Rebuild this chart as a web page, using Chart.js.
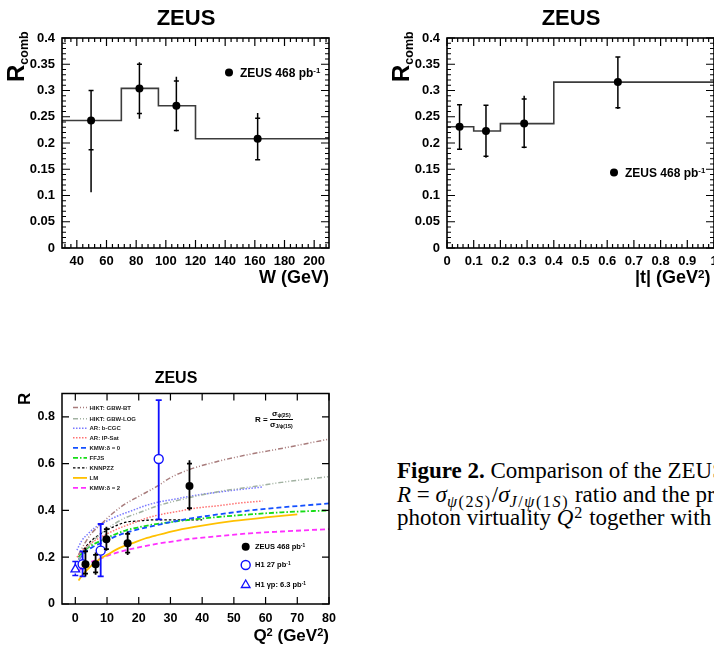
<!DOCTYPE html>
<html>
<head>
<meta charset="utf-8">
<script src="https://cdn.jsdelivr.net/npm/chart.js@4/dist/chart.umd.min.js"></script>
<style>
html,body{margin:0;padding:0;background:#fff;}
body{width:714px;height:647px;overflow:hidden;position:relative;font-family:"Liberation Sans",Arial,sans-serif;color:#000;}
canvas{position:absolute;}
.t{position:absolute;white-space:nowrap;font-weight:bold;line-height:1;color:#000;}
.sup{position:relative;top:-0.45em;font-size:0.65em;}
.sub{position:relative;top:0.3em;font-size:0.62em;}
.rot{position:absolute;white-space:nowrap;font-weight:bold;line-height:1;transform:rotate(-90deg);transform-origin:left top;}
.cap{position:absolute;left:397px;white-space:nowrap;font-family:"Liberation Serif","Times New Roman",serif;font-size:23px;line-height:1;color:#000;}
.csub{position:relative;top:0.32em;font-size:0.7em;letter-spacing:1.6px;}
.csup{position:relative;top:-0.45em;font-size:0.7em;margin-left:1px;margin-right:1px;}
.lg{position:absolute;white-space:nowrap;font-weight:bold;line-height:1;color:#222;font-size:6px;left:89.5px;}
</style>
</head>
<body>
<canvas id="c1" width="357" height="290" style="left:0;top:0;width:357px;height:290px"></canvas>
<canvas id="c2" width="380" height="290" style="left:357px;top:0;width:380px;height:290px"></canvas>
<canvas id="c3" width="357" height="287" style="left:0;top:360px;width:357px;height:287px"></canvas>

<!-- top-left texts -->
<div class="t" style="left:86px;width:200px;text-align:center;top:7.4px;font-size:22px;">ZEUS</div>
<div class="rot" style="left:4px;top:82px;font-size:24px;">R<span style="position:relative;top:4px;font-size:12.5px;">comb</span></div>
<div class="t" style="right:385px;top:268px;font-size:18px;">W (GeV)</div>
<div class="t" style="left:240px;top:66.5px;font-size:12px;">ZEUS 468 pb<span class="sup">-1</span></div>

<!-- top-right texts -->
<div class="t" style="left:471px;width:200px;text-align:center;top:7.4px;font-size:22px;">ZEUS</div>
<div class="rot" style="left:389px;top:82px;font-size:24px;">R<span style="position:relative;top:4px;font-size:12.5px;">comb</span></div>
<div class="t" style="left:635px;top:268px;font-size:18px;">|t| (GeV<span class="sup">2</span>)</div>
<div class="t" style="left:625px;top:166.5px;font-size:12px;">ZEUS 468 pb<span class="sup">-1</span></div>

<!-- bottom texts -->
<div class="t" style="left:76px;width:200px;text-align:center;top:369.8px;font-size:16px;">ZEUS</div>
<div class="rot" style="left:16px;top:405px;font-size:17px;">R</div>
<div class="t" style="right:385px;top:627px;font-size:17px;">Q<span class="sup">2</span> (GeV<span class="sup">2</span>)</div>

<div class="lg" style="top:404.6px">HIKT: GBW-BT</div>
<div class="lg" style="top:415.8px">HIKT: GBW-LOG</div>
<div class="lg" style="top:425.3px">AR: b-CGC</div>
<div class="lg" style="top:434.9px">AR: IP-Sat</div>
<div class="lg" style="top:444.9px">KMW:δ = 0</div>
<div class="lg" style="top:455px">FFJS</div>
<div class="lg" style="top:465px">KNNPZZ</div>
<div class="lg" style="top:475px">LM</div>
<div class="lg" style="top:485px">KMW:δ = 2</div>

<div class="t" style="left:255px;top:543px;font-size:7.5px;">ZEUS 468 pb<span class="sup">-1</span></div>
<div class="t" style="left:255px;top:561.3px;font-size:7.5px;">H1 27 pb<span class="sup">-1</span></div>
<div class="t" style="left:255px;top:581.3px;font-size:7.5px;">H1 γp: 6.3 pb<span class="sup">-1</span></div>

<div class="t" style="left:255px;top:410px;font-size:8px;display:flex;align-items:center;">
  <span>R =&nbsp;</span>
  <span style="display:inline-flex;flex-direction:column;align-items:center;">
    <span style="padding-bottom:1px;">σ<span class="sub">ψ(2S)</span></span>
    <span style="border-top:0.8px solid #000;padding-top:1px;">σ<span class="sub">J/ψ(1S)</span></span>
  </span>
</div>

<!-- caption -->
<div class="cap" style="top:458.7px"><b>Figure 2.</b> Comparison of the ZEUS results on the</div>
<div class="cap" style="top:482.7px"><i>R</i> = <i>σ</i><span class="csub"><i>ψ</i>(2<i>S</i>)</span>/<i>σ</i><span class="csub"><i>J</i>/<i>ψ</i>(1<i>S</i>)</span> ratio and the predictions of</div>
<div class="cap" style="top:506.2px">photon virtuality <i>Q</i><span class="csup">2</span> together with the</div>

<script>
// ================= DATA =================
// Top-left: R_comb vs W
const wBinEdges = [30, 70, 95, 120, 210];
const wBinR     = [0.243, 0.304, 0.271, 0.208];
const wPoints   = [49.6, 82.2, 107.1, 161.9];
const wR        = [0.243, 0.304, 0.271, 0.208];
const wStatLo   = [0.187, 0.256, 0.224, 0.168];
const wStatHi   = [0.300, 0.350, 0.318, 0.247];
const wTotLo    = [0.106, 0.246, 0.222, 0.167];
const wTotHi    = [0.301, 0.354, 0.326, 0.257];
const wTicks    = [40, 60, 80, 100, 120, 140, 160, 180, 200];
const rcombTicks = [0, 0.05, 0.1, 0.15, 0.2, 0.25, 0.3, 0.35, 0.4];

// Top-right: R_comb vs |t|
const tBinEdges = [0, 0.1, 0.2, 0.4, 1.0];
const tBinR     = [0.231, 0.223, 0.237, 0.316];
const tPoints   = [0.047, 0.146, 0.289, 0.640];
const tR        = [0.231, 0.223, 0.237, 0.316];
const tStatLo   = [0.188, 0.175, 0.192, 0.267];
const tStatHi   = [0.273, 0.272, 0.284, 0.364];
const tTotLo    = [0.187, 0.172, 0.190, 0.265];
const tTotHi    = [0.274, 0.273, 0.290, 0.365];
const tTicks    = [0, 0.1, 0.2, 0.3, 0.4, 0.5, 0.6, 0.7, 0.8, 0.9, 1.0];

// Bottom: R vs Q^2
const zeusQ2     = [3.2, 6.4, 9.8, 16.5, 36.0];
const zeusR      = [0.170, 0.170, 0.277, 0.260, 0.505];
const zeusStatLo = [0.130, 0.135, 0.235, 0.220, 0.410];
const zeusStatHi = [0.225, 0.210, 0.320, 0.300, 0.600];
const zeusTotLo  = [0.118, 0.125, 0.228, 0.210, 0.400];
const zeusTotHi  = [0.240, 0.220, 0.330, 0.310, 0.615];

const h1Q2   = [2.3, 8.0, 26.3];
const h1R    = [0.170, 0.228, 0.620];
const h1Lo   = [0.118, 0.118, 0.362];
const h1Hi   = [0.225, 0.342, 0.872];

const h1gpQ2 = [0.0];
const h1gpR  = [0.148];
const h1gpLo = [0.122];
const h1gpHi = [0.182];

const q2Ticks = [0, 10, 20, 30, 40, 50, 60, 70, 80];
const rTicks  = [0, 0.2, 0.4, 0.6, 0.8];

const qStd   = [1, 3, 5, 8, 12, 16, 20, 26, 30, 36, 45, 55, 65, 80];
const rGbwBt = [0.21, 0.26, 0.30, 0.34, 0.39, 0.43, 0.46, 0.505, 0.54, 0.575, 0.61, 0.64, 0.665, 0.705];
const rGbwLog= [0.19, 0.23, 0.26, 0.30, 0.34, 0.37, 0.39, 0.42, 0.435, 0.455, 0.48, 0.50, 0.52, 0.545];
const qAR    = [0.5, 2, 4, 6, 8, 10, 14, 18, 22, 26, 32, 38, 45, 52, 59];
const rBCGC  = [0.23, 0.27, 0.30, 0.325, 0.34, 0.355, 0.38, 0.40, 0.42, 0.435, 0.45, 0.465, 0.478, 0.49, 0.50];
const rIPSat = [0.20, 0.225, 0.25, 0.27, 0.285, 0.30, 0.325, 0.345, 0.365, 0.38, 0.395, 0.41, 0.42, 0.432, 0.44];
const rKMW0  = [0.19, 0.22, 0.24, 0.26, 0.285, 0.305, 0.32, 0.338, 0.35, 0.365, 0.383, 0.40, 0.413, 0.43];
const rFFJS  = [0.20, 0.23, 0.25, 0.27, 0.295, 0.315, 0.328, 0.343, 0.35, 0.36, 0.372, 0.383, 0.392, 0.40];
const qKNN   = [1, 3, 5, 8, 12, 16, 20, 25, 30, 35, 40];
const rKNN   = [0.20, 0.24, 0.27, 0.30, 0.33, 0.35, 0.355, 0.36, 0.36, 0.36, 0.36];
const qLM    = [1, 2, 4, 6, 8, 10, 14, 18, 22, 26, 32, 40, 50, 60, 70];
const rLM    = [0.10, 0.12, 0.15, 0.175, 0.195, 0.21, 0.24, 0.26, 0.28, 0.295, 0.315, 0.335, 0.355, 0.37, 0.383];
const rKMW2  = [0.14, 0.165, 0.18, 0.195, 0.215, 0.23, 0.242, 0.258, 0.266, 0.278, 0.29, 0.302, 0.31, 0.32];

// ================= HELPERS =================
const FONT = '"Liberation Sans", Arial, sans-serif';
Chart.defaults.font.family = FONT;
Chart.defaults.color = '#000';

const xy = (xs, ys) => xs.map((x, i) => ({x, y: ys[i]}));
const hist = (edges, vals) => edges.map((e, i) => ({x: e, y: vals[Math.min(i, vals.length - 1)]}));
const errs = (lo, hi, slo, shi) => lo.map((l, i) => ({totLo: l, totHi: hi[i], statLo: slo[i], statHi: shi[i]}));
const fmt = v => String(+(+v).toFixed(4));

const frameTicks = {
  id: 'frameTicks',
  afterDraw(chart, args, o) {
    const {ctx, chartArea: a, scales: {x, y}} = chart;
    ctx.save();
    ctx.strokeStyle = '#000';
    ctx.lineWidth = o.tickWidth || 1.2;
    ctx.beginPath();
    const addX = (v, len) => {
      const p = x.getPixelForValue(v);
      if (p < a.left - 0.5 || p > a.right + 0.5) return;
      ctx.moveTo(p, a.bottom); ctx.lineTo(p, a.bottom - len);
      ctx.moveTo(p, a.top); ctx.lineTo(p, a.top + len);
    };
    const addY = (v, len) => {
      const p = y.getPixelForValue(v);
      if (p < a.top - 0.5 || p > a.bottom + 0.5) return;
      ctx.moveTo(a.left, p); ctx.lineTo(a.left + len, p);
      ctx.moveTo(a.right, p); ctx.lineTo(a.right - len, p);
    };
    x.ticks.forEach(t => addX(t.value, o.majorLen));
    y.ticks.forEach(t => addY(t.value, o.majorLen));
    if (o.xMinor) {
      for (let n = Math.ceil(x.min / o.xMinor - 1e-6); n * o.xMinor <= x.max + 1e-9; n++) addX(n * o.xMinor, o.minorLen);
    }
    if (o.yMinor) {
      for (let n = Math.ceil(y.min / o.yMinor - 1e-6); n * o.yMinor <= y.max + 1e-9; n++) addY(n * o.yMinor, o.minorLen);
    }
    ctx.stroke();
    ctx.lineWidth = o.frameWidth || 1.6;
    ctx.strokeRect(a.left, a.top, a.right - a.left, a.bottom - a.top);
    ctx.restore();
  }
};

const errorBars = {
  id: 'errorBars',
  beforeDatasetDraw(chart, args) {
    const ds = chart.data.datasets[args.index];
    if (!ds.errors) return;
    const {ctx} = chart; const y = chart.scales.y;
    ctx.save();
    ctx.strokeStyle = ds.errColor || '#000';
    ctx.lineWidth = ds.errWidth || 1.5;
    const gap = ds.errGap || 0;
    const cw = ds.capHalf || 2.5;
    args.meta.data.forEach((el, i) => {
      const e = ds.errors[i];
      const px = el.x, py = el.y;
      const yLo = y.getPixelForValue(e.totLo), yHi = y.getPixelForValue(e.totHi);
      ctx.beginPath();
      if (gap > 0) {
        ctx.moveTo(px, yHi); ctx.lineTo(px, py - gap);
        ctx.moveTo(px, py + gap); ctx.lineTo(px, yLo);
      } else {
        ctx.moveTo(px, yHi); ctx.lineTo(px, yLo);
      }
      [e.statLo, e.statHi].forEach(v => {
        const yy = y.getPixelForValue(v);
        ctx.moveTo(px - cw, yy); ctx.lineTo(px + cw, yy);
      });
      ctx.stroke();
    });
    ctx.restore();
  }
};

const legendMarks = {
  id: 'legendMarks',
  afterDraw(chart, args, o) {
    const {ctx} = chart;
    ctx.save();
    (o.lines || []).forEach(l => {
      const ds = chart.data.datasets[l.ds];
      ctx.strokeStyle = ds.borderColor;
      ctx.lineWidth = ds.borderWidth;
      ctx.setLineDash(ds.borderDash || []);
      ctx.beginPath(); ctx.moveTo(l.x0, l.y); ctx.lineTo(l.x1, l.y); ctx.stroke();
    });
    ctx.setLineDash([]);
    (o.marks || []).forEach(m => {
      const ds = chart.data.datasets[m.ds];
      ctx.fillStyle = ds.backgroundColor;
      ctx.strokeStyle = ds.borderColor;
      ctx.lineWidth = ds.borderWidth;
      Chart.helpers.drawPoint(ctx, {pointStyle: ds.pointStyle, radius: ds.pointRadius, borderWidth: ds.borderWidth, rotation: 0}, m.x, m.y);
    });
    ctx.restore();
  }
};
Chart.register(frameTicks, errorBars, legendMarks);

function axes(o) {
  return {
    x: {
      type: 'linear', min: o.xmin, max: o.xmax,
      afterBuildTicks: s => { s.ticks = o.xt.map(v => ({value: v})); },
      afterFit: s => { s.height = o.bottomH; },
      grid: {display: false, drawTicks: false}, border: {display: false},
      ticks: {autoSkip: false, maxRotation: 0, padding: o.xpad, font: {size: o.fs, weight: 'bold'}, color: '#000', callback: fmt}
    },
    y: {
      type: 'linear', min: o.ymin, max: o.ymax,
      afterBuildTicks: s => { s.ticks = o.yt.map(v => ({value: v})); },
      afterFit: s => { s.width = o.leftW; },
      grid: {display: false, drawTicks: false}, border: {display: false},
      ticks: {autoSkip: false, padding: o.ypad, font: {size: o.fs, weight: 'bold'}, color: '#000', callback: fmt}
    }
  };
}
const baseOpts = {responsive: false, animation: false, events: [], devicePixelRatio: 1};

// ================= CHART 1 =================
new Chart(document.getElementById('c1'), {
  type: 'scatter',
  data: {datasets: [
    {label: 'ZEUS 468 pb-1', data: xy(wPoints, wR), pointRadius: 4, pointStyle: 'circle', backgroundColor: '#000', borderColor: '#000', borderWidth: 0,
     errors: errs(wTotLo, wTotHi, wStatLo, wStatHi), errWidth: 1.5, capHalf: 2.5},
    {type: 'line', label: 'hist', data: hist(wBinEdges, wBinR), stepped: true, borderColor: '#3c3c3c', borderWidth: 1.6, pointRadius: 0, fill: false}
  ]},
  options: Object.assign({}, baseOpts, {
    layout: {padding: {left: 0, right: 28, top: 38, bottom: 0}},
    scales: axes({xmin: 30, xmax: 210, ymin: 0, ymax: 0.4, xt: wTicks, yt: rcombTicks, bottomH: 42, leftW: 62, xpad: 6, ypad: 7, fs: 13}),
    plugins: {legend: {display: false}, tooltip: {enabled: false},
      frameTicks: {majorLen: 8, minorLen: 4, xMinor: 4, yMinor: 0.01, frameWidth: 1.6, tickWidth: 1.2},
      legendMarks: {marks: [{ds: 0, x: 229, y: 72.5}]}}
  })
});

// ================= CHART 2 =================
new Chart(document.getElementById('c2'), {
  type: 'scatter',
  data: {datasets: [
    {label: 'ZEUS 468 pb-1', data: xy(tPoints, tR), pointRadius: 4, pointStyle: 'circle', backgroundColor: '#000', borderColor: '#000', borderWidth: 0,
     errors: errs(tTotLo, tTotHi, tStatLo, tStatHi), errWidth: 1.5, capHalf: 2.5},
    {type: 'line', label: 'hist', data: hist(tBinEdges, tBinR), stepped: true, borderColor: '#3c3c3c', borderWidth: 1.6, pointRadius: 0, fill: false}
  ]},
  options: Object.assign({}, baseOpts, {
    layout: {padding: {left: 0, right: 23, top: 38, bottom: 0}},
    scales: axes({xmin: 0, xmax: 1, ymin: 0, ymax: 0.4, xt: tTicks, yt: rcombTicks, bottomH: 42, leftW: 90, xpad: 6, ypad: 7, fs: 13}),
    plugins: {legend: {display: false}, tooltip: {enabled: false},
      frameTicks: {majorLen: 8, minorLen: 4, xMinor: 0.02, yMinor: 0.01, frameWidth: 1.6, tickWidth: 1.2},
      legendMarks: {marks: [{ds: 0, x: 257, y: 172.5}]}}
  })
});

// ================= CHART 3 =================
const curve = (label, xs, ys, color, dash, w) => ({type: 'line', label, data: xy(xs, ys), borderColor: color, borderDash: dash, borderWidth: w,
  pointRadius: 0, fill: false, cubicInterpolationMode: 'monotone'});
new Chart(document.getElementById('c3'), {
  type: 'scatter',
  data: {datasets: [
    {label: 'ZEUS 468 pb-1', data: xy(zeusQ2, zeusR), pointRadius: 4, pointStyle: 'circle', backgroundColor: '#000', borderColor: '#000', borderWidth: 0,
     errors: errs(zeusTotLo, zeusTotHi, zeusStatLo, zeusStatHi), errWidth: 1.8, capHalf: 2.5},
    {label: 'H1 27 pb-1', data: xy(h1Q2, h1R), pointRadius: 4.5, pointStyle: 'circle', backgroundColor: 'rgba(0,0,0,0)', borderColor: '#1010ff', borderWidth: 1.4,
     errors: errs(h1Lo, h1Hi, h1Lo, h1Hi), errColor: '#1010ff', errWidth: 1.8, capHalf: 3, errGap: 4.5},
    {label: 'H1 gp 6.3 pb-1', data: xy(h1gpQ2, h1gpR), pointRadius: 5, pointStyle: 'triangle', backgroundColor: 'rgba(0,0,0,0)', borderColor: '#1010ff', borderWidth: 1.3,
     errors: errs(h1gpLo, h1gpHi, h1gpLo, h1gpHi), errColor: '#1010ff', errWidth: 1.5, capHalf: 3, errGap: 4},
    curve('HIKT: GBW-BT', qStd, rGbwBt, '#a87c7c', [5, 2, 1, 2, 1, 2], 1.5),
    curve('HIKT: GBW-LOG', qStd, rGbwLog, '#a2b2a2', [5, 2, 1, 2, 1, 2], 1.5),
    curve('AR: b-CGC', qAR, rBCGC, '#7a7aff', [1.5, 1.5], 1.5),
    curve('AR: IP-Sat', qAR, rIPSat, '#ff7272', [1.5, 1.5], 1.5),
    curve('KMW: delta = 0', qStd, rKMW0, '#1450ff', [5, 3], 1.8),
    curve('FFJS', qStd, rFFJS, '#16dc16', [5, 2, 1.5, 2], 1.8),
    curve('KNNPZZ', qKNN, rKNN, '#000000', [2.5, 2], 1.3),
    curve('LM', qLM, rLM, '#ffc000', [], 1.8),
    curve('KMW: delta = 2', qStd, rKMW2, '#ff30ff', [5, 3], 1.8)
  ]},
  options: Object.assign({}, baseOpts, {
    layout: {padding: {left: 0, right: 28, top: 33.5, bottom: 0}},
    scales: axes({xmin: -4.2, xmax: 80, ymin: 0, ymax: 0.9, xt: q2Ticks, yt: rTicks, bottomH: 43, leftW: 62, xpad: 7, ypad: 7, fs: 12.5}),
    plugins: {legend: {display: false}, tooltip: {enabled: false},
      frameTicks: {majorLen: 7, minorLen: 0, frameWidth: 1.5, tickWidth: 1.2},
      legendMarks: {
        lines: [47.5, 58.7, 68.2, 77.8, 87.8, 97.9, 107.9, 117.9, 127.9].map((y, i) => ({ds: 3 + i, x0: 73, x1: 87, y})),
        marks: [{ds: 0, x: 245.7, y: 186.7}, {ds: 1, x: 245.7, y: 205}, {ds: 2, x: 245.7, y: 225}]
      }}
  })
});
</script>
</body>
</html>
